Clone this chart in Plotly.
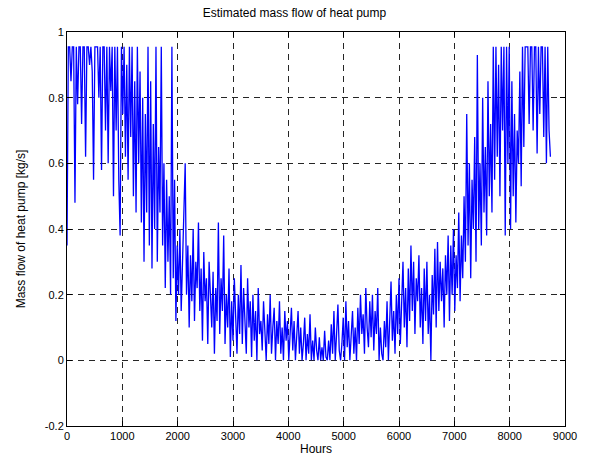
import numpy as np
import plotly.graph_objects as go

mass_flow = [
    0.35, 0.955, 0.955, 0.85, 0.955, 0.955, 0.48, 0.955, 0.78, 0.955,
    0.955, 0.72, 0.955, 0.955, 0.62, 0.955, 0.955, 0.9, 0.955, 0.88,
    0.55, 0.955, 0.955, 0.955, 0.8, 0.955, 0.58, 0.955, 0.955, 0.7,
    0.955, 0.6, 0.955, 0.82, 0.955, 0.5, 0.955, 0.7, 0.955, 0.55,
    0.38, 0.955, 0.75, 0.955, 0.62, 0.9, 0.55, 0.955, 0.68, 0.955,
    0.5, 0.85, 0.45, 0.955, 0.6, 0.88, 0.42, 0.8, 0.3, 0.75,
    0.45, 0.955, 0.35, 0.85, 0.28, 0.72, 0.4, 0.955, 0.3, 0.65,
    0.45, 0.955, 0.35, 0.6, 0.22, 0.55, 0.3, 0.5, 0.2, 0.955,
    0.25, 0.55, 0.12, 0.35, 0.2, 0.4, 0.15, 0.3, 0.45, 0.6,
    0.2, 0.35, 0.1, 0.32, 0.18, 0.4, 0.12, 0.3, 0.22, 0.42,
    0.15, 0.28, 0.06, 0.33, 0.18, 0.25, 0.05, 0.3, 0.2, 0.1,
    0.27, 0.02, 0.22, 0.12, 0.42, 0.08, 0.25, 0.15, 0.38, 0.05,
    0.2, 0.1, 0.28, 0.01, 0.18, 0.06, 0.25, 0.12, 0.02, 0.2,
    0.08, 0.29, 0.05, 0.22, 0.12, 0.02, 0.25, 0.1, 0.18, 0.01,
    0.2, 0.06, 0.15, 0.0, 0.22, 0.08, 0.12, 0.03, 0.18, 0.07,
    0.0, 0.14, 0.05, 0.2, 0.02, 0.1, 0.16, 0.0, 0.12, 0.05,
    0.18, 0.02, 0.1, 0.0, 0.15, 0.06, 0.12, 0.0, 0.08, 0.16,
    0.03, 0.12, 0.0, 0.08, 0.15, 0.02, 0.1, 0.0, 0.05, 0.13,
    0.0, 0.08, 0.02, 0.14, 0.0, 0.06, 0.0, 0.1, 0.03, 0.0,
    0.07, 0.0, 0.04, 0.0, 0.09, 0.01, 0.0, 0.06, 0.0, 0.11,
    0.02, 0.15, 0.0, 0.08, 0.17, 0.03, 0.0, 0.05, 0.13, 0.0,
    0.18, 0.04, 0.12, 0.0, 0.09, 0.15, 0.02, 0.1, 0.0, 0.16,
    0.05, 0.2, 0.08, 0.14, 0.02, 0.22, 0.1, 0.04, 0.18, 0.07,
    0.2, 0.03, 0.15, 0.08, 0.22, 0.0, 0.1, 0.02, 0.0, 0.12,
    0.04, 0.18, 0.0, 0.1, 0.24, 0.06, 0.15, 0.02, 0.2, 0.08,
    0.25, 0.05, 0.18, 0.3, 0.1, 0.22, 0.04, 0.28, 0.12, 0.35,
    0.15, 0.3, 0.08, 0.25, 0.18, 0.32, 0.1, 0.22, 0.05, 0.28,
    0.12, 0.3, 0.08, 0.2, 0.0, 0.26, 0.14, 0.34, 0.1, 0.36,
    0.15, 0.3, 0.18, 0.28, 0.1, 0.32, 0.2, 0.38, 0.12, 0.35,
    0.2, 0.4, 0.15, 0.32, 0.22, 0.45, 0.18, 0.38, 0.25, 0.5,
    0.3, 0.75, 0.35, 0.6, 0.25, 0.55, 0.4, 0.68, 0.3, 0.93,
    0.4, 0.6, 0.35, 0.8, 0.45, 0.65, 0.38, 0.85, 0.5, 0.72,
    0.45, 0.955, 0.55, 0.955, 0.62, 0.9, 0.5, 0.955, 0.7, 0.955,
    0.38, 0.955, 0.6, 0.955, 0.4, 0.85, 0.5, 0.75, 0.42, 0.7,
    0.6, 0.88, 0.53, 0.955, 0.65, 0.955, 0.955, 0.955, 0.72, 0.955,
    0.955, 0.7, 0.955, 0.955, 0.63, 0.955, 0.75, 0.955, 0.955, 0.68,
    0.955, 0.6, 0.955, 0.7, 0.62,
]
hours = np.arange(len(mass_flow)) * 24

x_ticks = [0, 1000, 2000, 3000, 4000, 5000, 6000, 7000, 8000, 9000]
y_ticks = [-0.2, 0, 0.2, 0.4, 0.6, 0.8, 1]
y_tick_labels = ["-0.2", "0", "0.2", "0.4", "0.6", "0.8", "1"]

fig = go.Figure()
fig.add_trace(go.Scatter(
    x=hours, y=mass_flow, mode="lines",
    line=dict(color="#0000FF", width=1.3),
    showlegend=False,
))

axis_common = dict(
    showline=True, linecolor="black", linewidth=1, mirror="ticks",
    ticks="inside", ticklen=5, tickcolor="black",
    showgrid=True, gridcolor="rgba(0,0,0,0.85)", gridwidth=1, griddash="6px,5px",
    zeroline=False, tickfont=dict(size=11, color="black", family="Liberation Sans, Arial"),
)

fig.update_layout(
    width=589, height=465,
    margin=dict(l=67, r=21, t=32, b=37),
    paper_bgcolor="white", plot_bgcolor="white",
    font=dict(family="Liberation Sans, Arial", size=11, color="black"),
    title=dict(text="Estimated mass flow of heat pump", x=0.5, xanchor="center",
               y=1 - 13 / 465, yanchor="middle", font=dict(size=12)),
    xaxis=dict(range=[0, 9000], tickvals=x_ticks,
               title=dict(text="Hours", standoff=2, font=dict(size=12)), **axis_common),
    yaxis=dict(range=[-0.2, 1], tickvals=y_ticks, ticktext=y_tick_labels,
               title=dict(text="Mass flow of heat pump [kg/s]", standoff=16, font=dict(size=12)),
               **axis_common),
)

fig.write_html("out.html")
